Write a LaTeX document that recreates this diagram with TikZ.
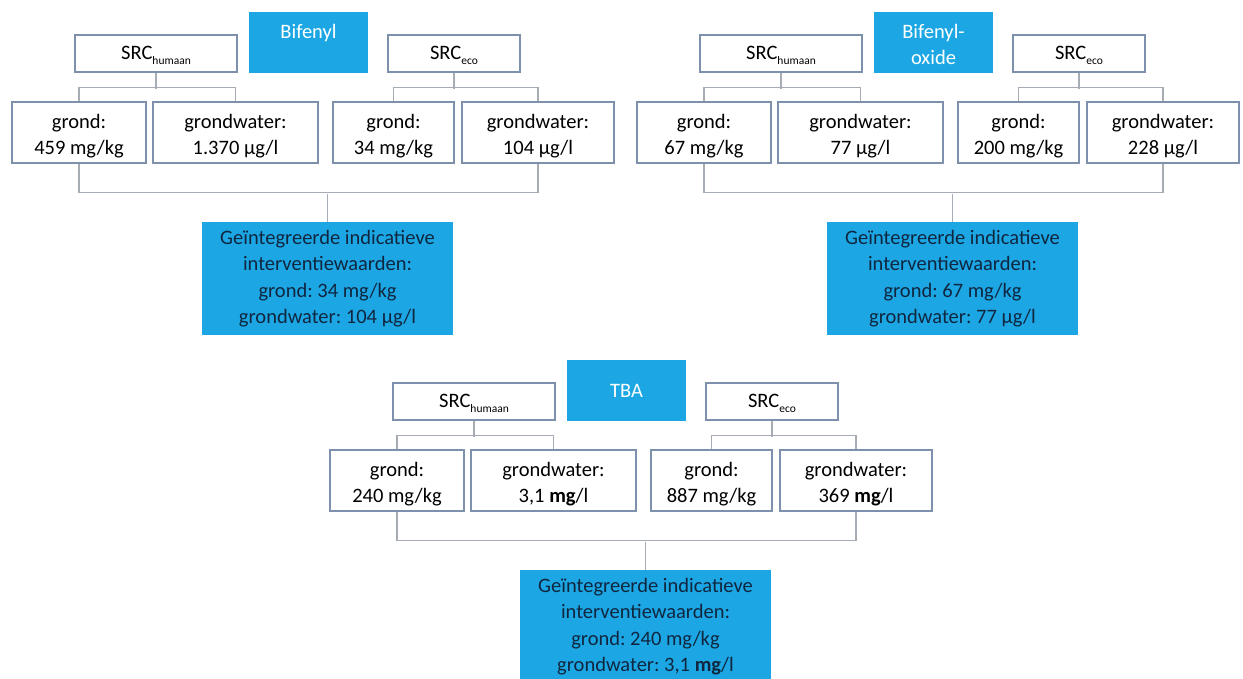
\documentclass[tikz,border=0pt]{standalone}
\usepackage{fontspec}
\setmainfont{Carlito}
\frenchspacing
\definecolor{bluefill}{RGB}{28,167,228}
\definecolor{navytext}{RGB}{16,38,63}
\definecolor{boxline}{RGB}{125,145,172}
\definecolor{connline}{RGB}{166,172,180}
\newcommand\fs{\fontsize{20.5}{26.5}\selectfont}
\newcommand\hsub[1]{\raisebox{-4.5pt}{\fontsize{11.5}{12}\selectfont #1}}
\newcommand\twol[2]{\begin{tabular}[t]{@{}c@{}}#1\\#2\end{tabular}}
\begin{document}
\frenchspacing
\begin{tikzpicture}[x=1pt,y=-1pt,
  wbox/.style={draw=boxline, line width=1.5pt, fill=white, inner sep=0pt, align=center, font=\fs},
  tbox/.style={fill=bluefill, text=white, inner sep=0pt, align=center, font=\fs, minimum width=119, minimum height=61},
  toptitle/.style={text height=26pt, text depth=35pt},
  rbox/.style={fill=bluefill, text=navytext, inner sep=0pt, align=center, font=\fs, minimum width=251, minimum height=113},
  srcbox/.style={wbox, minimum height=37, text height=24.5pt, text depth=12.5pt},
  valbox/.style={wbox, minimum height=61, text height=26pt, text depth=35pt},
  conn/.style={draw=connline, line width=1.2pt}]
\useasboundingbox (0,0) rectangle (1243,678);
\clip (0,0) rectangle (1243,678);

% ---------------- Group 1: Bifenyl ----------------
\node[tbox, toptitle] (t1) at (308.5,42.5) {Bifenyl};
\node[srcbox, minimum width=162] (h1) at (156,53.5) {SRC\hsub{humaan}};
\node[srcbox, minimum width=132] (e1) at (454,53.5) {SRC\hsub{eco}};
\node[valbox, minimum width=134] (g1a) at (79,132.5) {\twol{grond:}{459 mg/kg}};
\node[valbox, minimum width=165] (g1b) at (235.5,132.5) {\twol{grondwater:}{1.370 µg/l}};
\node[valbox, minimum width=121] (g1c) at (393.5,132.5) {\twol{grond:}{34 mg/kg}};
\node[valbox, minimum width=152] (g1d) at (538,132.5) {\twol{grondwater:}{104 µg/l}};
\node[rbox] (r1) at (327.5,278.5) {Geïntegreerde indicatieve\\interventiewaarden:\\grond: 34 mg/kg\\grondwater: 104 µg/l};
\draw[conn] (h1.south) -- ++(0,16);
\draw[conn] (g1a.north) -- ++(0,-14) -| (g1b.north);
\draw[conn] (e1.south) -- ++(0,16);
\draw[conn] (g1c.north) -- ++(0,-14) -| (g1d.north);
\draw[conn] (g1a.south) -- ++(0,29) -| (g1d.south);
\draw[conn] (r1.north) -- ++(0,-28);

% ---------------- Group 2: Bifenyl-oxide ----------------
\begin{scope}[shift={(625,0)}]
\node[tbox, toptitle] (t2) at (308.5,42.5) {\twol{Bifenyl-}{oxide}};
\node[srcbox, minimum width=162] (h2) at (156,53.5) {SRC\hsub{humaan}};
\node[srcbox, minimum width=132] (e2) at (454,53.5) {SRC\hsub{eco}};
\node[valbox, minimum width=134] (g2a) at (79,132.5) {\twol{grond:}{67 mg/kg}};
\node[valbox, minimum width=165] (g2b) at (235.5,132.5) {\twol{grondwater:}{77 µg/l}};
\node[valbox, minimum width=121] (g2c) at (393.5,132.5) {\twol{grond:}{200 mg/kg}};
\node[valbox, minimum width=152] (g2d) at (538,132.5) {\twol{grondwater:}{228 µg/l}};
\node[rbox] (r2) at (327.5,278.5) {Geïntegreerde indicatieve\\interventiewaarden:\\grond: 67 mg/kg\\grondwater: 77 µg/l};
\end{scope}
\draw[conn] (h2.south) -- ++(0,16);
\draw[conn] (g2a.north) -- ++(0,-14) -| (g2b.north);
\draw[conn] (e2.south) -- ++(0,16);
\draw[conn] (g2c.north) -- ++(0,-14) -| (g2d.north);
\draw[conn] (g2a.south) -- ++(0,29) -| (g2d.south);
\draw[conn] (r2.north) -- ++(0,-28);

% ---------------- Group 3: TBA ----------------
\begin{scope}[shift={(318,348)}]
\node[tbox] (t3) at (308.5,42.5) {TBA};
\node[srcbox, minimum width=162] (h3) at (156,53.5) {SRC\hsub{humaan}};
\node[srcbox, minimum width=132] (e3) at (454,53.5) {SRC\hsub{eco}};
\node[valbox, minimum width=134] (g3a) at (79,132.5) {\twol{grond:}{240 mg/kg}};
\node[valbox, minimum width=165] (g3b) at (235.5,132.5) {\twol{grondwater:}{3,1 \textbf{mg}/l}};
\node[valbox, minimum width=121] (g3c) at (393.5,132.5) {\twol{grond:}{887 mg/kg}};
\node[valbox, minimum width=152] (g3d) at (538,132.5) {\twol{grondwater:}{369 \textbf{mg}/l}};
\node[rbox] (r3) at (327.5,278.5) {Geïntegreerde indicatieve\\interventiewaarden:\\grond: 240 mg/kg\\grondwater: 3,1 \textbf{mg}/l};
\end{scope}
\draw[conn] (h3.south) -- ++(0,16);
\draw[conn] (g3a.north) -- ++(0,-14) -| (g3b.north);
\draw[conn] (e3.south) -- ++(0,16);
\draw[conn] (g3c.north) -- ++(0,-14) -| (g3d.north);
\draw[conn] (g3a.south) -- ++(0,29) -| (g3d.south);
\draw[conn] (r3.north) -- ++(0,-28);
\end{tikzpicture}
\end{document}
